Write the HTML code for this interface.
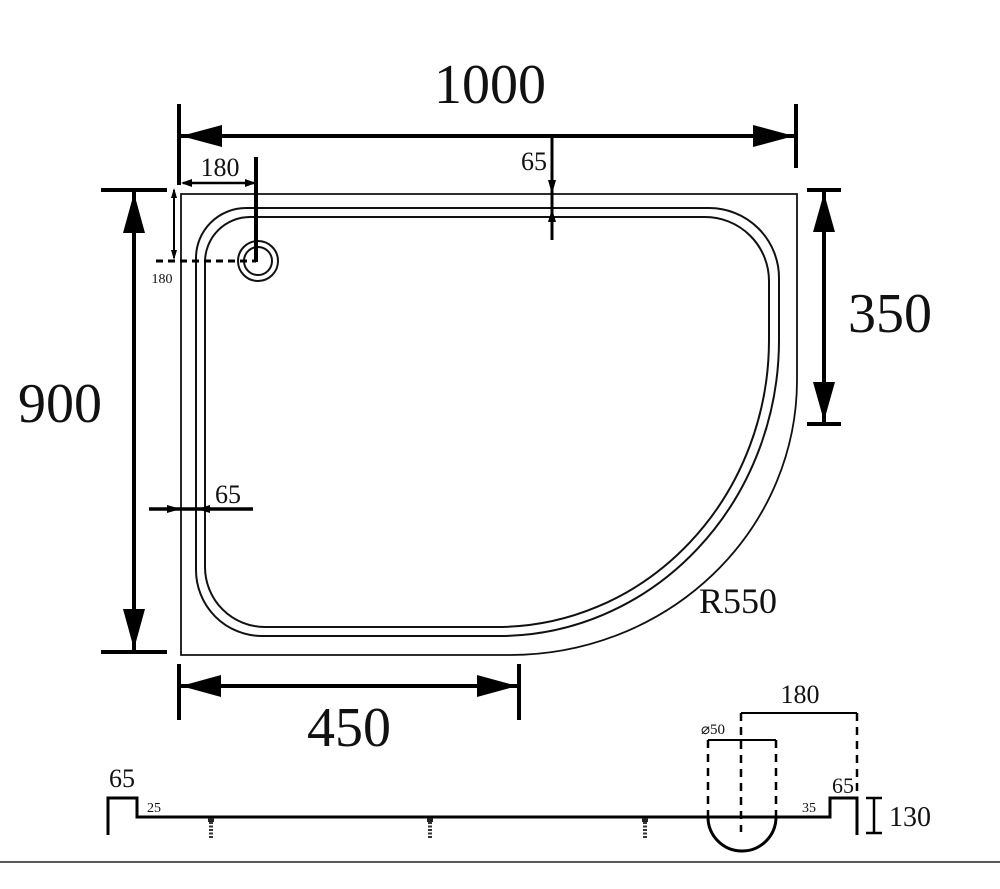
<!DOCTYPE html>
<html><head><style>
html,body{margin:0;padding:0;background:#fff;}
svg{display:block;}
text{font-family:"Liberation Serif",serif;fill:#111;}
</style></head><body>
<svg width="1000" height="889" viewBox="0 0 1000 889" xmlns="http://www.w3.org/2000/svg">
<rect width="1000" height="889" fill="#fff"/>
<!-- tray outline -->
<path d="M181,194 H797 V380 A287,275 0 0 1 510,655 H181 Z" fill="none" stroke="#111" stroke-width="1.8"/>
<path d="M246,208 H709 A70,70 0 0 1 779,278 V340 A280,296 0 0 1 500,636 H262 A66,66 0 0 1 196,570 V258 A50,50 0 0 1 246,208 Z" fill="none" stroke="#111" stroke-width="2"/>
<path d="M250,217 H705 A64,64 0 0 1 769,281 V340 A272,287 0 0 1 497,627 H265 A60,60 0 0 1 205,567 V262 A45,45 0 0 1 250,217 Z" fill="none" stroke="#111" stroke-width="2"/>
<!-- drain -->
<circle cx="258" cy="261" r="20" fill="none" stroke="#111" stroke-width="2"/>
<circle cx="258" cy="261" r="14" fill="none" stroke="#111" stroke-width="2"/>
<line x1="256" y1="157" x2="256" y2="262" stroke="#000" stroke-width="4"/>
<line x1="156" y1="261" x2="256" y2="261" stroke="#000" stroke-width="3" stroke-dasharray="7,5"/>
<!-- 1000 -->
<line x1="179" y1="104" x2="179" y2="185" stroke="#000" stroke-width="4"/>
<line x1="796" y1="104" x2="796" y2="168" stroke="#000" stroke-width="4"/>
<line x1="181" y1="136" x2="794" y2="136" stroke="#000" stroke-width="4"/>
<path d="M181,136 L222,125 L222,147 Z M794,136 L753,125 L753,147 Z" fill="#000"/>
<text x="490" y="103" font-size="56" text-anchor="middle">1000</text>
<!-- 180 top -->
<line x1="183" y1="183" x2="254" y2="183" stroke="#000" stroke-width="2.5"/>
<path d="M181,183 L192,179 L192,187 Z M256,183 L245,179 L245,187 Z" fill="#000"/>
<text x="220" y="176" font-size="26" text-anchor="middle">180</text>
<!-- 180 left small -->
<line x1="174" y1="190" x2="174" y2="258" stroke="#000" stroke-width="2"/>
<path d="M174,188 L171,198 L177,198 Z M174,260 L171,250 L177,250 Z" fill="#000"/>
<text x="162" y="283" font-size="14" text-anchor="middle">180</text>
<!-- 65 top -->
<line x1="552" y1="136" x2="552" y2="240" stroke="#000" stroke-width="3"/>
<path d="M552,194 L548,180 L556,180 Z M552,209 L548,222 L556,222 Z" fill="#000"/>
<text x="534" y="170" font-size="26" text-anchor="middle">65</text>
<!-- 900 -->
<line x1="101" y1="190" x2="167" y2="190" stroke="#000" stroke-width="4"/>
<line x1="101" y1="652" x2="167" y2="652" stroke="#000" stroke-width="4"/>
<line x1="134" y1="192" x2="134" y2="650" stroke="#000" stroke-width="4"/>
<path d="M134,193 L123,233 L145,233 Z M134,649 L123,609 L145,609 Z" fill="#000"/>
<text x="60" y="422" font-size="56" text-anchor="middle">900</text>
<!-- 65 left -->
<line x1="149" y1="509" x2="253" y2="509" stroke="#000" stroke-width="3.5"/>
<path d="M181,509 L167,505 L167,513 Z M197,509 L210,505 L210,513 Z" fill="#000"/>
<text x="228" y="503" font-size="26" text-anchor="middle">65</text>
<!-- 350 -->
<line x1="807" y1="190" x2="841" y2="190" stroke="#000" stroke-width="4"/>
<line x1="807" y1="424" x2="841" y2="424" stroke="#000" stroke-width="4"/>
<line x1="824" y1="192" x2="824" y2="422" stroke="#000" stroke-width="4"/>
<path d="M824,193 L813,232 L835,232 Z M824,421 L813,382 L835,382 Z" fill="#000"/>
<text x="890" y="332" font-size="56" text-anchor="middle">350</text>
<!-- 450 -->
<line x1="179" y1="664" x2="179" y2="720" stroke="#000" stroke-width="4"/>
<line x1="519" y1="664" x2="519" y2="720" stroke="#000" stroke-width="4"/>
<line x1="181" y1="686" x2="517" y2="686" stroke="#000" stroke-width="4"/>
<path d="M181,686 L221,675 L221,697 Z M517,686 L477,675 L477,697 Z" fill="#000"/>
<text x="349" y="746" font-size="56" text-anchor="middle">450</text>
<text x="738" y="613" font-size="36" text-anchor="middle">R550</text>
<!-- section -->
<path d="M108,835 V798 H137 V817 H830 V798 H857 V835" fill="none" stroke="#000" stroke-width="3"/>
<text x="122" y="787" font-size="26" text-anchor="middle">65</text>
<text x="154" y="812" font-size="14" text-anchor="middle">25</text>
<text x="809" y="812" font-size="14" text-anchor="middle">35</text>
<text x="843" y="793" font-size="22" text-anchor="middle">65</text>
<g fill="#222">
<rect x="208" y="818" width="6" height="4"/>
<rect x="427" y="818" width="6" height="4"/>
<rect x="642" y="818" width="6" height="4"/>
</g>
<g stroke="#333" stroke-width="4">
<line x1="211" y1="822" x2="211" y2="839" stroke-dasharray="2,1.5"/>
<line x1="430" y1="822" x2="430" y2="839" stroke-dasharray="2,1.5"/>
<line x1="645" y1="822" x2="645" y2="839" stroke-dasharray="2,1.5"/>
</g>
<path d="M708,817 A34,34 0 0 0 776,817" fill="none" stroke="#000" stroke-width="3"/>
<g stroke="#000" stroke-width="2.5" stroke-dasharray="8,6">
<line x1="708" y1="740" x2="708" y2="817"/>
<line x1="776" y1="740" x2="776" y2="817"/>
<line x1="741" y1="713" x2="741" y2="832"/>
<line x1="857" y1="713" x2="857" y2="796"/>
</g>
<line x1="708" y1="740" x2="776" y2="740" stroke="#000" stroke-width="2"/>
<line x1="741" y1="713" x2="857" y2="713" stroke="#000" stroke-width="2"/>
<text x="800" y="703" font-size="26" text-anchor="middle">180</text>
<text x="713" y="734" font-size="15" text-anchor="middle">⌀50</text>
<line x1="874" y1="798" x2="874" y2="833" stroke="#000" stroke-width="2.5"/>
<line x1="866" y1="798" x2="882" y2="798" stroke="#000" stroke-width="2.5"/>
<line x1="866" y1="833" x2="882" y2="833" stroke="#000" stroke-width="2.5"/>
<text x="910" y="826" font-size="28" text-anchor="middle">130</text>
<line x1="0" y1="862" x2="1000" y2="862" stroke="#222" stroke-width="1.5"/>
</svg>
</body></html>
